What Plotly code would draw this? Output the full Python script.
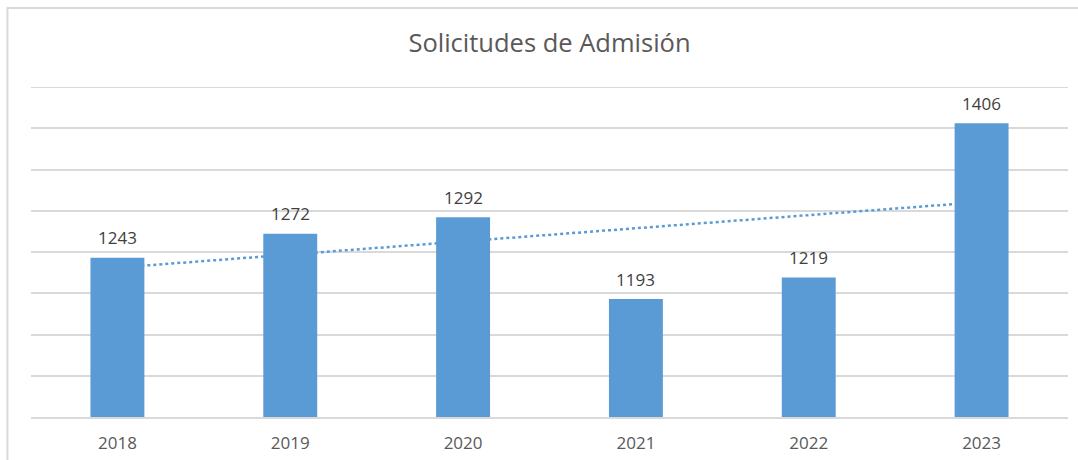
import numpy as np
import plotly.graph_objects as go

years = ["2018", "2019", "2020", "2021", "2022", "2023"]
solicitudes = [1243, 1272, 1292, 1193, 1219, 1406]
title_text = "Solicitudes de Admisión"
y_min, y_max, y_step = 1050, 1450, 50

BAR = "#5B9BD5"
GRID = "#D9D9D9"
TXT = "#595959"
LBL = "#404040"
FONT = "Open Sans"

# linear trendline (Excel-style) fitted on the data
xi = np.arange(1, len(solicitudes) + 1)
slope, intercept = np.polyfit(xi, solicitudes, 1)
trend = slope * xi + intercept

fig = go.Figure()
fig.add_trace(go.Scatter(
    x=years, y=trend, mode="lines",
    line=dict(color=BAR, width=2.5, dash="dot"),
    hoverinfo="skip", showlegend=False,
))
fig.add_trace(go.Bar(
    x=years, y=solicitudes, marker=dict(color=BAR, line=dict(width=0)),
    showlegend=False,
))

for i, v in enumerate(solicitudes):
    fig.add_annotation(x=i, y=v, text=str(v), showarrow=False,
                       yanchor="middle", yshift=20,
                       font=dict(family=FONT, size=17, color=LBL))

# top gridline at the axis maximum (plotly skips a gridline on the range edge)
fig.add_shape(type="line", xref="paper", yref="y", x0=0, x1=1, y0=y_max, y1=y_max,
              line=dict(color=GRID, width=2), layer="below")

# chart-area border
fig.add_shape(type="rect", xref="paper", yref="paper",
              x0=-0.0227, x1=1.2, y0=-0.5, y1=1.2394,
              line=dict(color=GRID, width=2), fillcolor="rgba(0,0,0,0)",
              layer="below")

fig.update_layout(
    template="none",
    width=1078, height=460,
    margin=dict(l=31, r=10, t=87, b=43, autoexpand=False),
    paper_bgcolor="white", plot_bgcolor="white",
    bargap=0.688,
    title=dict(text=title_text, x=0.5, xref="paper", y=1 - 43 / 460, yanchor="middle",
               font=dict(family=FONT, size=25.5, color=TXT)),
    xaxis=dict(type="category", range=[-0.5, 5.5], autorange=False, automargin=False,
               showgrid=False, showline=True, linecolor=GRID, linewidth=2,
               ticks="", ticklabelstandoff=10,
               tickfont=dict(family=FONT, size=17, color=TXT), fixedrange=True),
    yaxis=dict(range=[y_min, y_max], autorange=False, automargin=False, dtick=y_step, tick0=y_min,
               showgrid=True, gridcolor=GRID, gridwidth=2,
               showticklabels=False, zeroline=False, showline=False, fixedrange=True),
    font=dict(family=FONT),
)

fig.write_html("out.html", config={"displayModeBar": False, "staticPlot": True},
               post_script="document.body.style.margin='0';")
